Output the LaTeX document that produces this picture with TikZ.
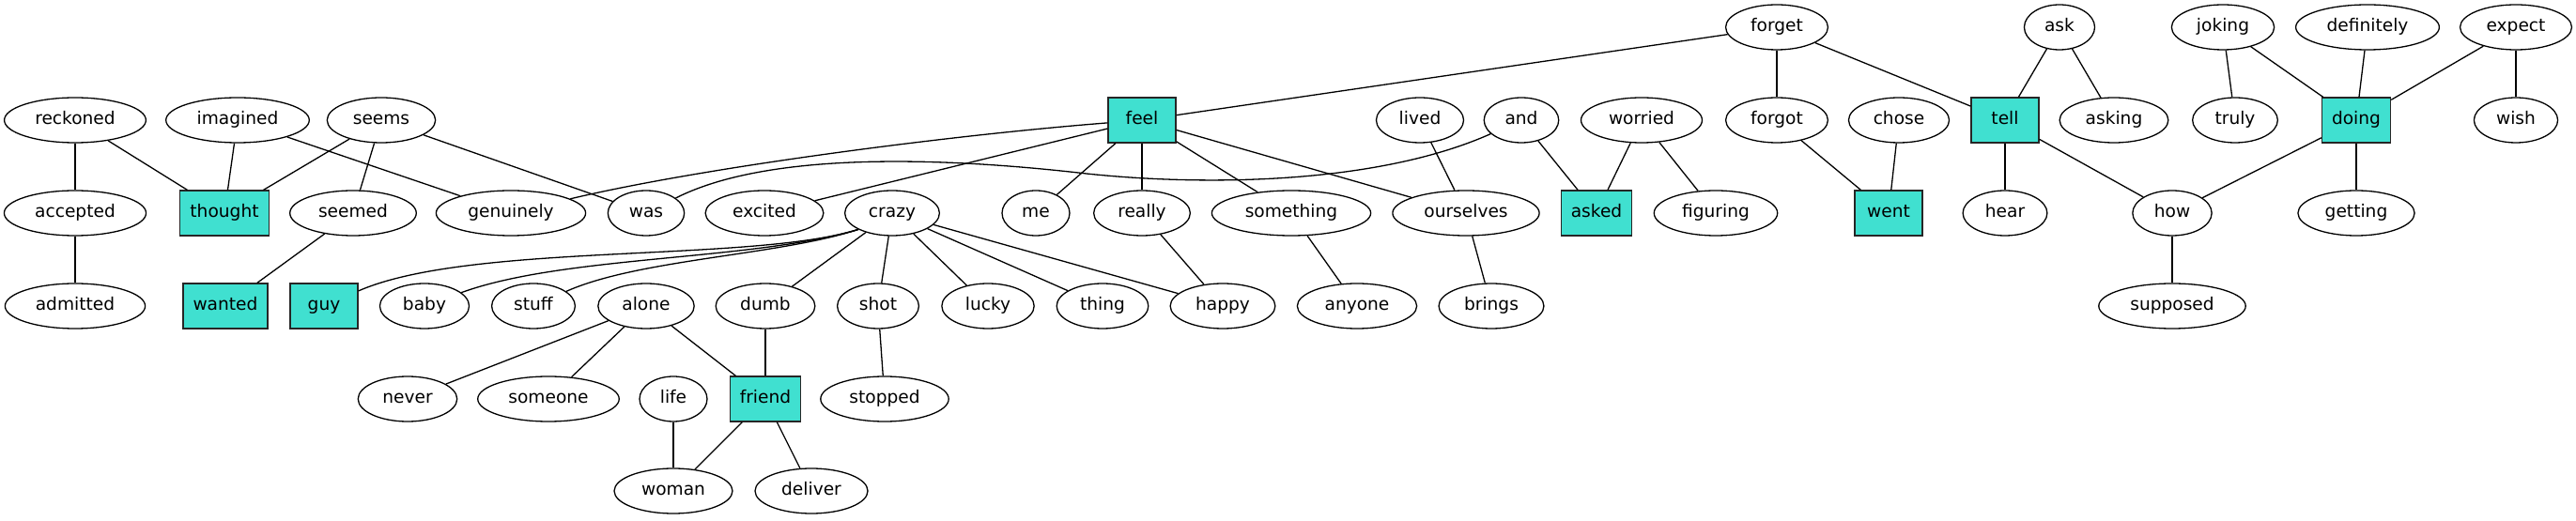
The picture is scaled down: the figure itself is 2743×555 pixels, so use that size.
\documentclass[tikz,border=0pt]{standalone}
\usepackage{fontspec}
\setmainfont{DejaVu Sans}
\usetikzlibrary{shapes.geometric}
\definecolor{turquoise}{HTML}{40E0D0}
\tikzstyle{word} = [ellipse, draw=black, line width=0.65pt, minimum width=36pt, minimum height=24pt, inner xsep=5.3pt, inner ysep=2pt, text height=7pt, text depth=2.2pt, font=\fontsize{9.3}{11}\selectfont]
\tikzstyle{keyword} = [rectangle, draw=black!85, fill=turquoise, line width=0.65pt, minimum width=36pt, minimum height=24pt, inner xsep=5.3pt, text height=7pt, text depth=2.2pt, font=\fontsize{9.3}{11}\selectfont]
\tikzstyle{link} = [line width=0.65pt]

\begin{document}
\begin{tikzpicture}[x=0.5pt, y=-0.5pt]
\useasboundingbox (0,0) rectangle (2743,555);

% Nodes
\node (forget) [word] at (1892,29) {forget};
\node (ask) [word] at (2193,29) {ask};
\node (joking) [word] at (2367,29) {joking};
\node (definitely) [word] at (2521,29) {definitely};
\node (expect) [word] at (2679,29) {expect};

\node (reckoned) [word] at (80,128) {reckoned};
\node (imagined) [word] at (253,128) {imagined};
\node (seems) [word] at (406,128) {seems};
\node (feel) [keyword] at (1216,128) {feel};
\node (lived) [word] at (1512,128) {lived};
\node (andword) [word] at (1620,128) {and};
\node (worried) [word] at (1748,128) {worried};
\node (forgot) [word] at (1892,128) {forgot};
\node (chose) [word] at (2022,128) {chose};
\node (tell) [keyword] at (2135,128) {tell};
\node (asking) [word] at (2251,128) {asking};
\node (truly) [word] at (2380,128) {truly};
\node (doing) [keyword] at (2509,128) {doing};
\node (wish) [word] at (2679,128) {wish};

\node (accepted) [word] at (80,227) {accepted};
\node (thought) [keyword] at (239,227) {thought};
\node (seemed) [word] at (376,227) {seemed};
\node (genuinely) [word] at (544,227) {genuinely};
\node (was) [word] at (688,227) {was};
\node (excited) [word] at (814,227) {excited};
\node (crazy) [word] at (950,227) {crazy};
\node (me) [word] at (1103,227) {me};
\node (really) [word] at (1216,227) {really};
\node (something) [word] at (1375,227) {something};
\node (ourselves) [word] at (1561,227) {ourselves};
\node (asked) [keyword] at (1700,227) {asked};
\node (figuring) [word] at (1827,227) {figuring};
\node (went) [keyword] at (2011,227) {went};
\node (hear) [word] at (2135,227) {hear};
\node (how) [word] at (2313,227) {how};
\node (getting) [word] at (2509,227) {getting};

\node (admitted) [word] at (80,326) {admitted};
\node (wanted) [keyword] at (240,326) {wanted};
\node (guy) [keyword] at (345,326) {guy};
\node (baby) [word] at (452,326) {baby};
\node (stuff) [word] at (568,326) {stuff};
\node (alone) [word] at (688,326) {alone};
\node (dumb) [word] at (815,326) {dumb};
\node (shot) [word] at (935,326) {shot};
\node (lucky) [word] at (1052,326) {lucky};
\node (thing) [word] at (1174,326) {thing};
\node (happy) [word] at (1302,326) {happy};
\node (anyone) [word] at (1445,326) {anyone};
\node (brings) [word] at (1588,326) {brings};
\node (supposed) [word] at (2313,326) {supposed};

\node (never) [word] at (434,425) {never};
\node (someone) [word] at (584,425) {someone};
\node (life) [word] at (717,425) {life};
\node (friend) [keyword] at (815,425) {friend};
\node (stopped) [word] at (942,425) {stopped};

\node (woman) [word] at (717,523) {woman};
\node (deliver) [word] at (864,523) {deliver};

% Edges
\draw [link] (reckoned) -- (accepted);
\draw [link] (reckoned) -- (thought);
\draw [link] (accepted) -- (admitted);
\draw [link] (imagined) -- (thought);
\draw [link] (imagined) -- (genuinely);
\draw [link] (seems) -- (thought);
\draw [link] (seems) -- (seemed);
\draw [link] (seems) -- (was);
\draw [link] (seemed) -- (wanted);

\draw [link] (forget) -- (feel);
\draw [link] (forget) -- (forgot);
\draw [link] (forget) -- (tell);
\draw [link] (feel) .. controls (1000,145) and (740,180) .. (genuinely);
\draw [link] (feel) -- (excited);
\draw [link] (feel) -- (me);
\draw [link] (feel) -- (really);
\draw [link] (feel) -- (something);
\draw [link] (feel) -- (ourselves);
\draw [link] (andword) .. controls (1470,195) and (1290,199) .. (1157,185) .. controls (1010,168) and (820,160) .. (was);
\draw [link] (andword) -- (asked);
\draw [link] (lived) -- (ourselves);
\draw [link] (worried) -- (asked);
\draw [link] (worried) -- (figuring);
\draw [link] (forgot) -- (went);
\draw [link] (chose) -- (went);
\draw [link] (ask) -- (tell);
\draw [link] (ask) -- (asking);
\draw [link] (tell) -- (hear);
\draw [link] (tell) -- (how);
\draw [link] (joking) -- (truly);
\draw [link] (joking) -- (doing);
\draw [link] (definitely) -- (doing);
\draw [link] (expect) -- (doing);
\draw [link] (expect) -- (wish);
\draw [link] (doing) -- (how);
\draw [link] (doing) -- (getting);
\draw [link] (how) -- (supposed);

\draw [link] (crazy.south west) .. controls (800,280) and (500,258) .. (guy);
\draw [link] (crazy.south west) .. controls (800,278) and (600,272) .. (baby);
\draw [link] (crazy.south west) .. controls (830,272) and (680,276) .. (stuff);
\draw [link] (crazy) -- (dumb);
\draw [link] (crazy) -- (shot);
\draw [link] (crazy) -- (lucky);
\draw [link] (crazy) -- (thing);
\draw [link] (crazy) -- (happy);
\draw [link] (really) -- (happy);
\draw [link] (something) -- (anyone);
\draw [link] (ourselves) -- (brings);

\draw [link] (alone) -- (never);
\draw [link] (alone) -- (someone);
\draw [link] (alone) -- (friend);
\draw [link] (dumb) -- (friend);
\draw [link] (shot) -- (stopped);
\draw [link] (life) -- (woman);
\draw [link] (friend) -- (woman);
\draw [link] (friend) -- (deliver);

\end{tikzpicture}
\end{document}
